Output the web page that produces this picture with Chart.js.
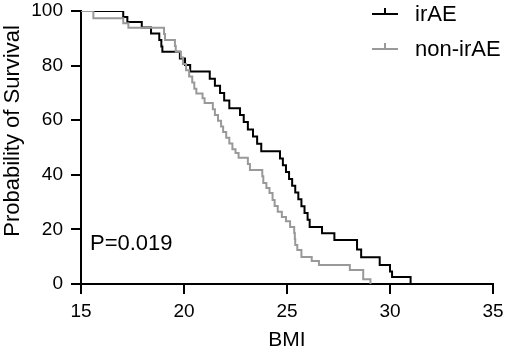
<!DOCTYPE html>
<html>
<head>
<meta charset="utf-8">
<script src="https://cdn.jsdelivr.net/npm/chart.js@4.4.1/dist/chart.umd.min.js"></script>
<style>
html,body{margin:0;padding:0;background:#fff;}
#wrap{width:505px;height:353px;}
</style>
</head>
<body>
<div id="wrap"><canvas id="c" width="505" height="353"></canvas></div>
<script>
const seriesNames = ['irAE', 'non-irAE'];
const seriesColors = ['#000000', '#999999'];
const irAEBmi = [15, 17.05, 17.25, 17.95, 18.4, 18.8, 18.9, 18.95, 19.8, 20.05, 20.3, 21.25, 21.5, 21.75, 21.95, 22.2, 22.72, 22.9, 23.1, 23.35, 23.55, 23.75, 24.66, 24.8, 24.95, 25.1, 25.25, 25.4, 25.55, 25.7, 25.85, 26.0, 26.1, 26.7, 27.3, 28.4, 28.6, 29.5, 30.0, 30.1, 31.0];
const irAESurv = [100, 97.8, 96.0, 94.0, 91.8, 89.4, 87.0, 85.1, 82.6, 80.2, 77.8, 75.2, 72.6, 70.0, 67.2, 64.4, 61.9, 59.3, 56.6, 54.0, 51.4, 48.6, 46.0, 43.5, 41.0, 38.5, 36.0, 33.5, 31.0, 28.5, 26.0, 23.5, 20.9, 18.6, 16.1, 12.6, 9.8, 7.0, 4.6, 2.6, 0];
const nonIrAEBmi = [15, 15.6, 17.05, 17.3, 19.03, 19.08, 19.56, 19.6, 19.85, 19.95, 20.1, 20.25, 20.4, 20.5, 20.6, 20.9, 21.0, 21.4, 21.5, 21.65, 21.8, 21.9, 22.05, 22.2, 22.35, 22.5, 22.65, 23.1, 23.2, 23.8, 23.85, 24.0, 24.15, 24.3, 24.4, 24.55, 24.75, 24.95, 25.15, 25.35, 25.38, 25.4, 25.5, 25.7, 26.2, 26.55, 28.05, 28.7, 29.05];
const nonIrAESurv = [100, 97.3, 95.5, 93.9, 91.6, 89.4, 87.2, 85.1, 83.0, 80.6, 78.3, 76.0, 73.8, 71.5, 69.8, 68.0, 66.3, 64.0, 61.9, 59.8, 57.7, 55.7, 53.6, 51.5, 49.4, 48.0, 46.2, 44.0, 41.8, 39.5, 37.0, 35.2, 33.3, 30.8, 28.6, 26.5, 24.5, 23.0, 20.9, 18.7, 16.5, 14.3, 12.5, 9.9, 8.4, 7.0, 5.1, 1.7, 0];
const xTicks = [15, 20, 25, 30, 35];
const yTicks = [0, 20, 40, 60, 80, 100];
const xTitle = 'BMI';
const yTitle = 'Probability of Survival';
const pValueText = 'P=0.019';

const FONT = "'Liberation Sans', Arial, Helvetica, sans-serif";

function toPoints(xs, ys) { return xs.map((x, i) => ({x: x, y: ys[i]})); }

const overlayPlugin = {
  id: 'overlay',
  afterDraw(chart) {
    const ctx = chart.ctx;
    ctx.save();
    ctx.fillStyle = '#000';
    ctx.font = '22px ' + FONT;
    ctx.textBaseline = 'middle';
    ctx.textAlign = 'left';
    ctx.fillText(pValueText, 90, 244);
    const rows = [14, 49];
    chart.data.datasets.forEach((ds, i) => {
      const y = rows[i];
      ctx.strokeStyle = ds.borderColor;
      ctx.lineWidth = 2;
      ctx.beginPath();
      ctx.moveTo(372, y); ctx.lineTo(398, y);
      ctx.moveTo(385, y); ctx.lineTo(385, y - 6);
      ctx.stroke();
      ctx.fillStyle = '#000';
      ctx.font = '22px ' + FONT;
      ctx.textBaseline = 'middle';
      ctx.textAlign = 'left';
      ctx.fillText(ds.label, 415, y + 1);
    });
    // y-axis title
    ctx.save();
    ctx.translate(13, 131);
    ctx.rotate(-Math.PI / 2);
    ctx.font = '22px ' + FONT;
    ctx.textAlign = 'center';
    ctx.textBaseline = 'middle';
    ctx.fillStyle = '#000';
    ctx.fillText(yTitle, 0, 0);
    ctx.restore();
    ctx.restore();
  }
};

new Chart(document.getElementById('c'), {
  type: 'line',
  data: {
    datasets: [
      {label: seriesNames[0], data: toPoints(irAEBmi, irAESurv), borderColor: seriesColors[0], borderWidth: 2, stepped: 'before', pointRadius: 0, fill: false, order: 2},
      {label: seriesNames[1], data: toPoints(nonIrAEBmi, nonIrAESurv), borderColor: seriesColors[1], borderWidth: 2, stepped: 'before', pointRadius: 0, fill: false, order: 1}
    ]
  },
  options: {
    responsive: false,
    animation: false,
    devicePixelRatio: 1,
    layout: {padding: {top: 11, right: 12, bottom: 0, left: 0}},
    plugins: {legend: {display: false}, tooltip: {enabled: false}},
    scales: {
      x: {
        type: 'linear', min: 15, max: 35,
        afterBuildTicks: (s) => { s.ticks = xTicks.map(v => ({value: v})); },
        afterFit: (s) => { s.height = 69; s.paddingLeft = 0; s.paddingRight = 0; },
        ticks: {color: '#000', font: {size: 19, family: FONT, lineHeight: 1}, padding: 8, maxRotation: 0},
        grid: {drawOnChartArea: false, drawTicks: true, tickLength: 10, color: '#000', lineWidth: 2},
        border: {color: '#000', width: 2},
        title: {display: true, text: xTitle, color: '#000', font: {size: 21, family: FONT}, padding: {top: 6, bottom: 0}}
      },
      y: {
        type: 'linear', min: 0, max: 100,
        afterBuildTicks: (s) => { s.ticks = yTicks.map(v => ({value: v})); },
        afterFit: (s) => { s.width = 81; s.paddingTop = 0; s.paddingBottom = 0; },
        ticks: {color: '#000', font: {size: 19, family: FONT, lineHeight: 1}, padding: 8},
        grid: {drawOnChartArea: false, drawTicks: true, tickLength: 10, color: '#000', lineWidth: 2},
        border: {color: '#000', width: 2},
        title: {display: false, text: yTitle}
      }
    }
  },
  plugins: [overlayPlugin]
});
</script>
</body>
</html>
